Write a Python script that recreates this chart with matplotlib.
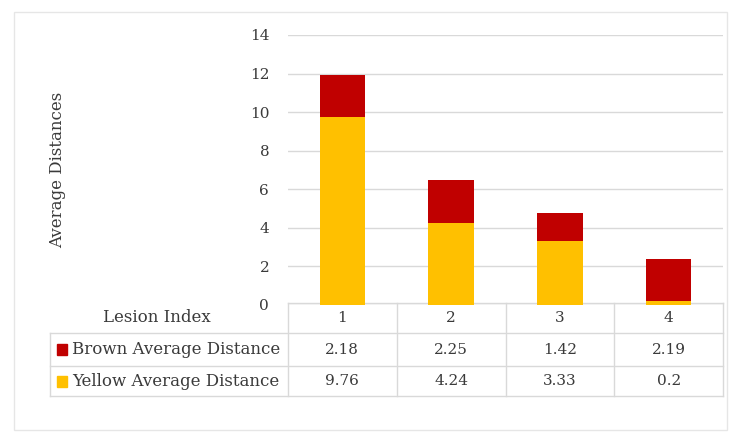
import matplotlib.pyplot as plt
from matplotlib.patches import Rectangle

lesions = ["1", "2", "3", "4"]
brown = [2.18, 2.25, 1.42, 2.19]
yellow = [9.76, 4.24, 3.33, 0.2]
series_names = ["Brown Average Distance", "Yellow Average Distance"]
yticks = [0, 2, 4, 6, 8, 10, 12, 14]

YELLOW = "#FFC000"
RED = "#C00000"
TXT = "#3a3a3a"
GRID = "#d9d9d9"

plt.rcParams["font.family"] = ["DejaVu Serif"]

W, H = 734, 445
fig = plt.figure(figsize=(W / 100, H / 100), dpi=100)

# axes in pixel terms
x0, x1, y0, y1 = 288, 723, 305, 35
ax = fig.add_axes([x0 / W, 1 - y0 / H, (x1 - x0) / W, (y0 - y1) / H])

xs = range(len(lesions))
ax.bar(xs, yellow, width=0.42, color=YELLOW, zorder=3)
ax.bar(xs, brown, width=0.42, bottom=yellow, color=RED, zorder=3)

ax.set_xlim(-0.5, len(lesions) - 0.5)
ax.set_ylim(0, 14)
ax.set_yticks(yticks)
ax.set_yticklabels([str(t) for t in yticks], fontsize=11, color=TXT)
ax.tick_params(axis="y", length=0, pad=13.5)
ax.set_xticks([])
ax.grid(axis="y", color=GRID, linewidth=1, zorder=0)
for s in ax.spines.values():
    s.set_visible(False)

ax.text(58 / W, 1 - 170 / H, "Average Distances", transform=fig.transFigure,
        rotation=90, ha="center", va="center", fontsize=12, color=TXT)

# data table under the axes
def ya(py):
    return (y0 - py) / (y0 - y1)

def xa(px):
    return (px - x0) / (x1 - x0)

rows = [ya(303), ya(333), ya(366), ya(396)]
tr = ax.transAxes
line_kw = dict(transform=tr, color=GRID, linewidth=1, clip_on=False)

# horizontal rules
ax.plot([0, 1], [rows[0], rows[0]], **line_kw)
for r in rows[1:]:
    ax.plot([xa(50), 1], [r, r], **line_kw)
# vertical rules
ax.plot([xa(50), xa(50)], [rows[1], rows[3]], **line_kw)
for i in range(len(lesions) + 1):
    xv = i / len(lesions)
    ax.plot([xv, xv], [rows[0], rows[3]], **line_kw)

fs = 12
fs_num = 11
ax.text(xa(157), (rows[0] + rows[1]) / 2, "Lesion Index", transform=tr,
        ha="center", va="center", fontsize=fs, color=TXT)
table_vals = [brown, yellow]
colors = [RED, YELLOW]
for j, name in enumerate(series_names):
    yc = (rows[j + 1] + rows[j + 2]) / 2
    sq_h = 11 / (y0 - y1)
    sq_w = 10 / (x1 - x0)
    ax.add_patch(Rectangle((xa(57), yc - sq_h / 2), sq_w, sq_h, transform=tr,
                           color=colors[j], clip_on=False))
    ax.text(xa(72), yc, name, transform=tr, ha="left", va="center",
            fontsize=fs, color=TXT)
    for i, v in enumerate(table_vals[j]):
        ax.text((i + 0.5) / len(lesions), yc, str(v), transform=tr,
                ha="center", va="center", fontsize=fs_num, color=TXT)
for i, lab in enumerate(lesions):
    ax.text((i + 0.5) / len(lesions), (rows[0] + rows[1]) / 2, lab, transform=tr,
            ha="center", va="center", fontsize=fs_num, color=TXT)

# outer chart border
fig.patches.append(Rectangle((14 / W, 1 - 430 / H), (727 - 14) / W, (430 - 12) / H,
                             transform=fig.transFigure, fill=False,
                             edgecolor="#e6e6e6", linewidth=1))

fig.savefig("out.png", dpi=100)
